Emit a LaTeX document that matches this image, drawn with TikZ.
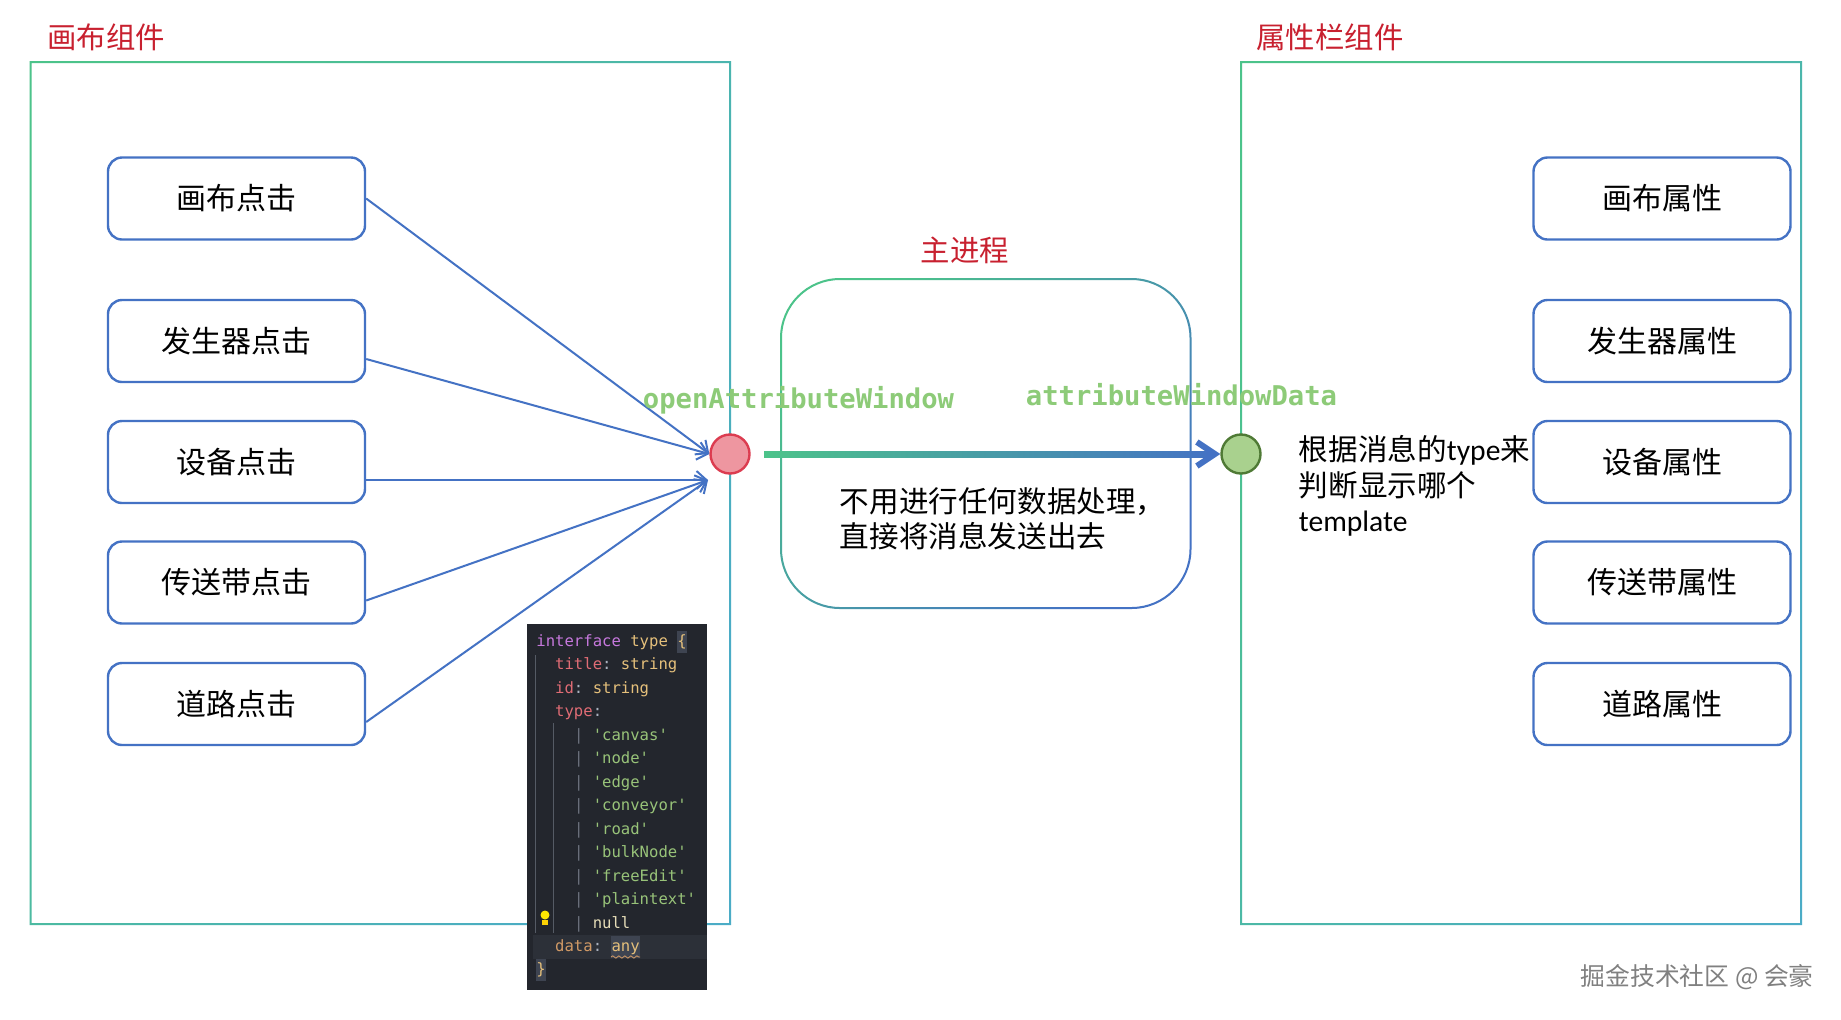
\documentclass[tikz,border=0pt]{standalone}
\usepackage{fontspec}
\setmonofont{DejaVu Sans Mono}
\newfontfamily\cjk{Noto Sans CJK SC}
\newfontfamily\carl{Carlito}
\usetikzlibrary{arrows.meta,calc,decorations.pathmorphing}
\definecolor{tred}{HTML}{C8202F}
\definecolor{bblue}{HTML}{4472C4}
\definecolor{ggreen}{HTML}{4CC38A}
\definecolor{gteal}{HTML}{4BACC6}
\definecolor{lblgreen}{HTML}{8DCB78}
\definecolor{rcfill}{HTML}{EE96A0}
\definecolor{rcdraw}{HTML}{DC3C50}
\definecolor{gcfill}{HTML}{A9D18E}
\definecolor{gcdraw}{HTML}{4F7A35}
\definecolor{codebg}{HTML}{23262D}
\definecolor{codehl}{HTML}{2C3038}
\definecolor{codebox}{HTML}{3E4451}
\definecolor{cpur}{HTML}{C678DD}
\definecolor{cyel}{HTML}{E5C07B}
\definecolor{cred}{HTML}{E06C75}
\definecolor{cgrn}{HTML}{98C379}
\definecolor{cfg}{HTML}{ABB2BF}
\definecolor{corg}{HTML}{D19A66}
\definecolor{cnull}{HTML}{E6DDB8}
\definecolor{cbar}{HTML}{6B717D}
\tikzset{
  box/.style={draw=bblue, line width=1.2pt, rounded corners=7pt, minimum width=128.5pt,
    minimum height=41pt, inner sep=0pt, fill=white, font=\cjk\fontsize{15}{18}\selectfont},
  conn/.style={draw=bblue, line width=1pt, -{Straight Barb[length=5pt,width=9pt]}},
  ttl/.style={text=tred, inner sep=0pt, font=\cjk\fontsize{14.7}{17}\selectfont},
  lbl/.style={text=lblgreen, inner sep=0pt, font=\ttfamily\bfseries\fontsize{13.6}{16}\selectfont},
  code/.style={anchor=west, inner sep=0pt, text=cfg, font=\ttfamily\fontsize{7.8}{9}\selectfont},
  dot/.style={circle, minimum size=19.5pt, inner sep=0pt, line width=1.2pt},
  body/.style={inner sep=0pt, align=left, font=\cjk\fontsize{14.8}{17.7}\selectfont}
}
\begin{document}
\begin{tikzpicture}[x=0.5pt,y=-0.5pt]
\useasboundingbox (0,0) rectangle (1841,1019);
\fill[white] (0,0) rectangle (1841,1019);
% containers
\shade[top color=ggreen, bottom color=gteal, shading angle=60, even odd rule]
  (29.5,61) rectangle (731,925) (31.5,63) rectangle (729,923);
\shade[top color=ggreen, bottom color=gteal, shading angle=60, even odd rule]
  (1240,61) rectangle (1802,925) (1242,63) rectangle (1800,923);
\node[ttl, anchor=west] (t1) at (47,37) {画布组件};
\node[ttl, anchor=west] (t2) at (1256,37) {属性栏组件};
% middle process box
\shade[top color=ggreen, bottom color=bblue, shading angle=45, even odd rule]
  [rounded corners=30pt] (780,278) rectangle (1191.5,609)
  [rounded corners=29pt] (782,280) rectangle (1189.5,607);
\node[ttl] (t3) at (965,250) {主进程};
% left boxes
\node[box] (b1) at (236.5,198.5) {画布点击};
\node[box] (b2) at (236.5,341) {发生器点击};
\node[box] (b3) at (236.5,462) {设备点击};
\node[box] (b4) at (236.5,582.5) {传送带点击};
\node[box] (b5) at (236.5,704) {道路点击};
% right boxes
\node[box] (r1) at (1662,198.5) {画布属性};
\node[box] (r2) at (1662,341) {发生器属性};
\node[box] (r3) at (1662,462) {设备属性};
\node[box] (r4) at (1662,582.5) {传送带属性};
\node[box] (r5) at (1662,704) {道路属性};
% circles
\node[dot, draw=rcdraw, fill=rcfill] (rc) at (730,454) {};
\node[dot, draw=gcdraw, fill=gcfill] (gc) at (1241,454) {};
\coordinate (tipL) at (708,480);
\coordinate (astart) at (764,454);
% connectors
\draw[conn] (b1.east) -- (rc.west);
\draw[conn] ($(b2.east)+(0,18)$) -- (rc.west);
\draw[conn] ($(b3.east)+(0,18)$) -- (tipL);
\draw[conn] ($(b4.east)+(0,18)$) -- (tipL);
\draw[conn] ($(b5.east)+(0,18)$) -- (tipL);
% gradient arrow
\shade[left color=ggreen, right color=bblue] ($(astart)+(0,-3)$) rectangle ($(gc.west)+(-6,3)$);
\draw[bblue, line width=3pt, -{Straight Barb[length=9pt,width=12pt]}] ($(gc.west)+(-14,0)$) -- (gc.west);
% labels
\node[lbl] (l1) at (798.5,400) {openAttributeWindow};
\node[lbl] (l2) at (1181.5,394.5) {attributeWindowData};
% texts
\node[body, anchor=west] (m1) at (839.5,519) {不用进行任何数据处理，\\直接将消息发送出去};
\node[body, anchor=west] (m2) at (1298.5,486) {根据消息的{\carl type}来\\判断显示哪个\\{\carl template}};
% code block
\fill[codebg] (527,624) rectangle (707,990);
\fill[codehl] (533,935) rectangle (707,959);
\draw[cbar!70!codebg, line width=0.5pt] (535,655) -- (535,933);
\draw[cbar!70!codebg, line width=0.5pt] (553,723) -- (553,933);
\fill[codebox] (677,631) rectangle (686.5,653);
\fill[codebox] (610.5,936) rectangle (640,958);
\fill[codebox] (536,959) rectangle (545.5,981);
\draw[corg, line width=0.4pt, decorate, decoration={snake, amplitude=0.6pt, segment length=3pt}] (611,957) -- (640,957);
\fill[yellow!90!orange] (545,915) circle (4.5);
\fill[yellow!70!orange] (542,920) rectangle (548,925);
\node[code] (c1) at (536,642) {\textcolor{cpur}{interface} \textcolor{cyel}{type} \textcolor{cyel}{\{}};
\node[code] (c2) at (554.8,665.5) {\textcolor{cred}{title}: \textcolor{cyel}{string}};
\node[code] (c3) at (554.8,689) {\textcolor{cred}{id}: \textcolor{cyel}{string}};
\node[code] (c4) at (554.8,712.5) {\textcolor{cred}{type}:};
\node[code] (c5) at (573.6,736) {\textcolor{cbar}{|} \textcolor{cgrn}{'canvas'}};
\node[code] (c6) at (573.6,759.5) {\textcolor{cbar}{|} \textcolor{cgrn}{'node'}};
\node[code] (c7) at (573.6,783) {\textcolor{cbar}{|} \textcolor{cgrn}{'edge'}};
\node[code] (c8) at (573.6,806.5) {\textcolor{cbar}{|} \textcolor{cgrn}{'conveyor'}};
\node[code] (c9) at (573.6,830) {\textcolor{cbar}{|} \textcolor{cgrn}{'road'}};
\node[code] (c10) at (573.6,853.5) {\textcolor{cbar}{|} \textcolor{cgrn}{'bulkNode'}};
\node[code] (c11) at (573.6,877) {\textcolor{cbar}{|} \textcolor{cgrn}{'freeEdit'}};
\node[code] (c12) at (573.6,900.5) {\textcolor{cbar}{|} \textcolor{cgrn}{'plaintext'}};
\node[code] (c13) at (573.6,924) {\textcolor{cbar}{|} \textcolor{cnull}{null}};
\node[code] (c14) at (554.8,947) {\textcolor{corg}{data}: \textcolor{cyel}{any}};
\node[code] (c15) at (536,970) {\textcolor{cyel}{\}}};
% watermark
\node[inner sep=0pt, anchor=east, text=black!50, font=\cjk\fontsize{12.4}{14}\selectfont] (wm) at (1814,977) {掘金技术社区 @ 会豪};
\end{tikzpicture}
\end{document}
